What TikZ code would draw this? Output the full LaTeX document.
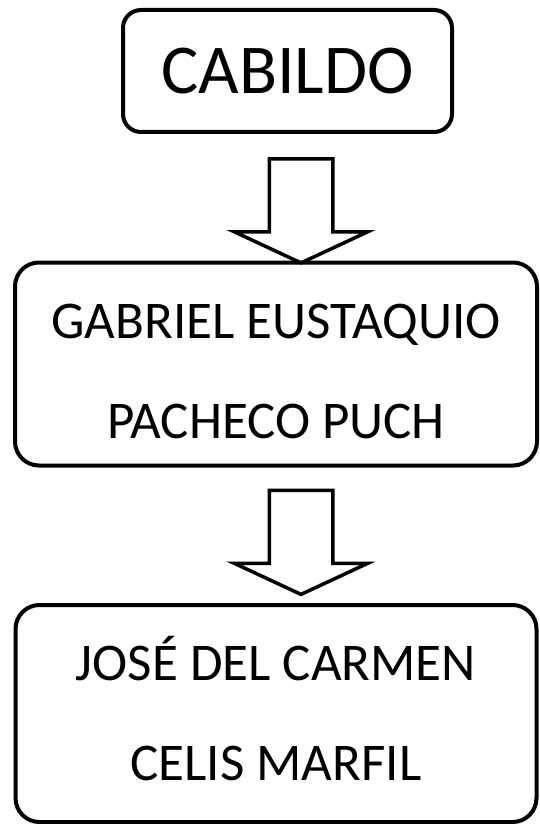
\documentclass[tikz,border=0pt]{standalone}
\usepackage{fontspec}
\setmainfont{Carlito}
\usetikzlibrary{shapes.arrows}

\begin{document}
\begin{tikzpicture}[
  x=1pt, y=-1pt,
  box/.style={draw, line width=4pt, align=center, inner sep=0pt},
  bigtxt/.style={font=\fontsize{53}{100}\selectfont},
  downarrow/.style={single arrow, draw, line width=3.5pt, rotate=-90,
    inner xsep=0pt, inner ysep=30pt, minimum height=104pt, minimum width=130pt,
    single arrow head extend=35pt, single arrow tip angle=130},
]
\useasboundingbox (0,0) rectangle (539,824);

% ---------- top box ----------
\node[box, rounded corners=18pt, minimum width=329pt, minimum height=122pt,
      font=\fontsize{70}{84}\selectfont] (cabildo) at (287.5,71) {CABILDO};

% ---------- middle box ----------
\node[box, bigtxt, rounded corners=24pt, minimum width=522pt, minimum height=203pt,
      text height=148pt, text depth=0pt]
  (gabriel) at (276,364) {GABRIEL EUSTAQUIO\\PACHECO PUCH};

% ---------- bottom box ----------
\node[box, bigtxt, rounded corners=24pt, minimum width=521pt, minimum height=217pt,
      text height=133pt, text depth=0pt]
  (jose) at (276,713.5) {JOSÉ DEL CARMEN\\CELIS MARFIL};

% block arrows between boxes
\node[downarrow] (a1) at (301,203.5) {};
\node[downarrow] (a2) at (301,535) {};

\end{tikzpicture}
\end{document}
